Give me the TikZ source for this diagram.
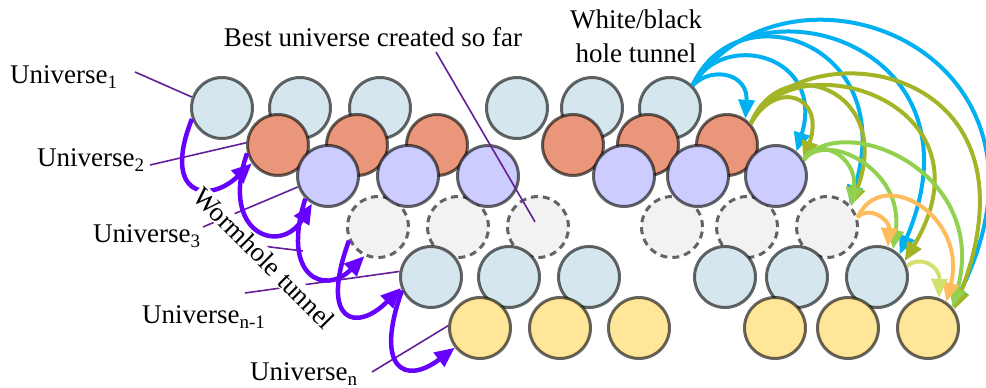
\documentclass[tikz,border=0pt]{standalone}
\usepackage{fontspec}
\setmainfont{Liberation Serif}
\usetikzlibrary{arrows.meta}
\definecolor{cblue}{RGB}{213,230,238}
\definecolor{csalmon}{RGB}{234,150,122}
\definecolor{clav}{RGB}{204,204,255}
\definecolor{cgray}{RGB}{242,242,242}
\definecolor{cyel}{RGB}{255,230,153}
\definecolor{wpurple}{RGB}{102,0,255}
\definecolor{ppurple}{RGB}{100,30,150}
\definecolor{tblue}{RGB}{0,176,240}
\definecolor{tolive}{RGB}{163,180,38}
\definecolor{tgreen}{RGB}{146,208,80}
\definecolor{torange}{RGB}{255,188,92}
\definecolor{tpale}{RGB}{212,224,110}
\newcommand{\mysub}[1]{\raisebox{-5pt}{\fontsize{19}{19}\selectfont #1}}
\begin{document}
\begin{tikzpicture}[x=1pt,y=-1pt,
  uni/.style={circle,minimum size=61pt,inner sep=0pt,line width=3pt,draw=black,draw opacity=0.6},
  dsh/.style={uni,fill=cgray,dash pattern=on 7pt off 5pt},
  lab/.style={font=\fontsize{27}{32}\selectfont,inner sep=0pt,anchor=base west},
  ptr/.style={draw=ppurple,line width=1.6pt},
  wh/.style={draw=wpurple,line width=4.5pt,-{Triangle[length=20pt,width=17pt]}},
  tun/.style={line width=4pt,-{Triangle[length=19pt,width=16pt]}}]
\useasboundingbox (0,0) rectangle (986,388);
% row 1
\node[uni,fill=cblue] (a11) at (222,108) {};
\node[uni,fill=cblue] (a12) at (300,108) {};
\node[uni,fill=cblue] (a13) at (380,108) {};
\node[uni,fill=cblue] (b11) at (517,108) {};
\node[uni,fill=cblue] (b12) at (592,108) {};
\node[uni,fill=cblue] (b13) at (670,108) {};
% row 2
\node[uni,fill=csalmon] (a21) at (278,145) {};
\node[uni,fill=csalmon] (a22) at (357,145) {};
\node[uni,fill=csalmon] (a23) at (437,145) {};
\node[uni,fill=csalmon] (b21) at (573,145) {};
\node[uni,fill=csalmon] (b22) at (648,145) {};
\node[uni,fill=csalmon] (b23) at (727,145) {};
% row 4 (dashed)
\node[dsh] (a41) at (378,227) {};
\node[dsh] (a42) at (458,227) {};
\node[dsh] (a43) at (538,227) {};
\node[dsh] (b41) at (672,227) {};
\node[dsh] (b42) at (747,227) {};
\node[dsh] (b43) at (827,227) {};
% row 3
\node[uni,fill=clav] (a31) at (328,176) {};
\node[uni,fill=clav] (a32) at (408,176) {};
\node[uni,fill=clav] (a33) at (488,176) {};
\node[uni,fill=clav] (b31) at (624,176) {};
\node[uni,fill=clav] (b32) at (698,176) {};
\node[uni,fill=clav] (b33) at (776,176) {};
% row 5
\node[uni,fill=cblue] (a51) at (431,277) {};
\node[uni,fill=cblue] (a52) at (509,277) {};
\node[uni,fill=cblue] (a53) at (589,277) {};
\node[uni,fill=cblue] (b51) at (725,277) {};
\node[uni,fill=cblue] (b52) at (797,277) {};
\node[uni,fill=cblue] (b53) at (877,277) {};
% row 6
\node[uni,fill=cyel] (a61) at (480,328) {};
\node[uni,fill=cyel] (a62) at (560,328) {};
\node[uni,fill=cyel] (a63) at (639,328) {};
\node[uni,fill=cyel] (b61) at (775,328) {};
\node[uni,fill=cyel] (b62) at (848,328) {};
\node[uni,fill=cyel] (b63) at (928,328) {};
% labels
\node[lab] (u1) at (10,83) {Universe\mysub{1}};
\node[lab] (u2) at (37,166) {Universe\mysub{2}};
\node[lab] (u3) at (93,242) {Universe\mysub{3}};
\node[lab] (un1) at (142,323) {Universe\mysub{n-1}};
\node[lab] (un) at (250,380) {Universe\mysub{n}};
\node[lab,anchor=base] (best) at (373,46) {Best universe created so far};
\node[lab,anchor=base] (wb1) at (636,28) {White/black};
\node[lab,anchor=base] (wb2) at (636,62) {hole tunnel};
% pointer start points
\coordinate (p1) at (135,72);
\coordinate (p2) at (150,165);
\coordinate (p3) at (203,227);
\coordinate (p4) at (245,293);
\coordinate (p5) at (372,372);
\coordinate (pb) at (436,52);
\coordinate (pw) at (262,246);
\coordinate (pwe) at (303,251);
\draw[ptr] (p1) -- (a11.160);
\draw[ptr] (p2) -- (a21.176);
\draw[ptr] (p3) -- (a31.200);
\draw[ptr] (p4) -- (a51.170);
\draw[ptr] (p5) -- (a61.176);
\draw[ptr,shorten >=6pt] (pb) -- (a43.center);
\draw[ptr] (pw) -- (pwe);
% wormhole tunnels
\draw[wh] (a11.200) .. controls +(-30,75) and +(-45,42) .. (a21.215);
\draw[wh] (a21.195) .. controls +(-28,80) and +(-32,52) .. (a31.240);
\draw[wh] (a31.225) .. controls +(-25,78) and +(-40,40) .. (a41.245);
\draw[wh] (a41.205) .. controls +(-30,82) and +(-45,45) .. (a51.200);
\draw[wh] (a51.205) .. controls +(-28,78) and +(-50,38) .. (a61.218);
\node[font=\fontsize{27}{32}\selectfont,rotate=-45,fill=white,inner sep=1pt] (worm) at (264,258) {Wormhole tunnel};
% white/black hole tunnels
\draw[tun,tblue] (b13.45) .. controls +(20,-20) and +(3,-45) .. (b23.55);
\draw[tun,tblue] (b13.45) .. controls +(30,-56) and +(29,-97) .. (b33.50);
\draw[tun,tblue] (b13.45) .. controls +(43,-96) and +(50,-164) .. (b43.45);
\draw[tun,tblue] (b13.45) .. controls +(53,-111) and +(91,-215) .. (b53.45);
\draw[tun,tblue] (b13.45) .. controls +(98,-146) and +(128,-258) .. (b63.40);
\draw[tun,tolive] (b23.42) .. controls +(25,-45) and +(22,-65) .. (b33.30);
\draw[tun,tolive] (b23.42) .. controls +(30,-75) and +(44,-116) .. (b43.42);
\draw[tun,tolive] (b23.42) .. controls +(40,-85) and +(96,-161) .. (b53.30);
\draw[tun,tolive] (b23.42) .. controls +(50,-95) and +(96,-250) .. (b63.35);
\draw[tun,tgreen] (b33.30) .. controls +(10,-25) and +(7,-52) .. (b43.40);
\draw[tun,tgreen] (b33.30) .. controls +(22,-30) and +(12,-80) .. (b53.60);
\draw[tun,tgreen] (b33.30) .. controls +(37,-50) and +(38,-138) .. (b63.40);
\draw[tun,torange] (b43.17) .. controls +(10,-13) and +(2,-28) .. (b53.70);
\draw[tun,torange] (b43.17) .. controls +(23,-53) and +(22,-87) .. (b63.55);
\draw[tun,tpale] (b53.20) .. controls +(12,-11) and +(1,-33) .. (b63.70);
\end{tikzpicture}
\end{document}
